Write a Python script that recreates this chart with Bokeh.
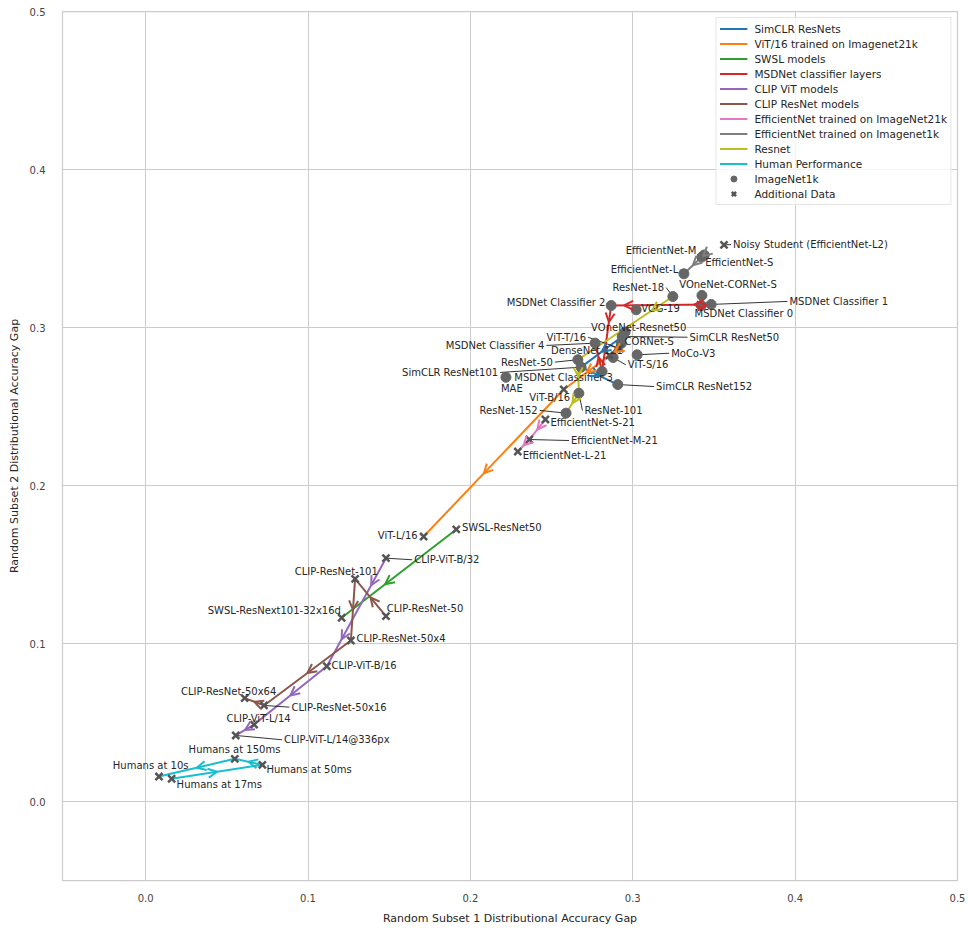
from bokeh.plotting import figure
from bokeh.models import (ColumnDataSource, Range1d, Arrow, OpenHead, Legend,
                          LegendItem, FixedTicker, PrintfTickFormatter)
from bokeh.embed import file_html
from bokeh.resources import INLINE
from bokeh.core.properties import value

# ---------------------------------------------------------------- data
# Models trained on ImageNet-1k only (drawn as circles)
IN1K_MODELS = ["EfficientNet-S", "EfficientNet-M", "EfficientNet-L", "ResNet-18",
               "VOneNet-CORNet-S", "MSDNet Classifier 0", "MSDNet Classifier 1",
               "MSDNet Classifier 2", "VGG-19", "VOneNet-Resnet50",
               "MSDNet Classifier 4", "CORNet-S", "DenseNet-121", "MoCo-V3",
               "ResNet-50", "SimCLR ResNet50", "SimCLR ResNet101",
               "MSDNet Classifier 3", "SimCLR ResNet152", "MAE", "ResNet-101",
               "ResNet-152"]
IN1K_GAP1 = [0.3440, 0.3425, 0.3315, 0.3247, 0.3426, 0.3422, 0.3483, 0.2867,
             0.3021, 0.2953, 0.2768, 0.2929, 0.2879, 0.3027, 0.2662, 0.2935,
             0.2682, 0.2811, 0.2908, 0.2219, 0.2668, 0.2589]
IN1K_GAP2 = [0.3459, 0.3446, 0.3340, 0.3196, 0.3203, 0.3139, 0.3146, 0.3139,
             0.3112, 0.2972, 0.2901, 0.2899, 0.2810, 0.2827, 0.2796, 0.2943,
             0.2749, 0.2722, 0.2639, 0.2685, 0.2584, 0.2458]

# Models / observers with additional data (drawn as crosses)
EXTRA_MODELS = ["Noisy Student (EfficientNet-L2)", "ViT-T/16", "ViT-S/16",
                "ViT-B/16", "ViT-L/16", "EfficientNet-S-21", "EfficientNet-M-21",
                "EfficientNet-L-21", "SWSL-ResNet50", "SWSL-ResNext101-32x16d",
                "CLIP-ViT-B/32", "CLIP-ResNet-101", "CLIP-ResNet-50",
                "CLIP-ResNet-50x4", "CLIP-ViT-B/16", "CLIP-ResNet-50x64",
                "CLIP-ResNet-50x16", "CLIP-ViT-L/14", "CLIP-ViT-L/14@336px",
                "Humans at 150ms", "Humans at 50ms", "Humans at 10s",
                "Humans at 17ms"]
EXTRA_GAP1 = [0.3562, 0.2922, 0.2856, 0.2575, 0.1712, 0.2462, 0.2363, 0.2292,
              0.1913, 0.1207, 0.1480, 0.1290, 0.1480, 0.1264, 0.1116, 0.0610,
              0.0729, 0.0668, 0.0555, 0.0549, 0.0719, 0.0082, 0.0160]
EXTRA_GAP2 = [0.3523, 0.2867, 0.2823, 0.2608, 0.1677, 0.2418, 0.2291, 0.2215,
              0.1722, 0.1163, 0.1540, 0.1409, 0.1173, 0.1019, 0.0856, 0.0654,
              0.0608, 0.0487, 0.0418, 0.0270, 0.0232, 0.0158, 0.0144]

# Model families, connected in order of increasing size / viewing time
SERIES_NAMES = ["SimCLR ResNets", "ViT/16 trained on Imagenet21k", "SWSL models",
                "MSDNet classifier layers", "CLIP ViT models", "CLIP ResNet models",
                "EfficientNet trained on ImageNet21k",
                "EfficientNet trained on Imagenet1k", "Resnet", "Human Performance"]
SERIES_MEMBERS = [
    ["SimCLR ResNet50", "SimCLR ResNet101", "SimCLR ResNet152"],
    ["ViT-T/16", "ViT-S/16", "ViT-B/16", "ViT-L/16"],
    ["SWSL-ResNet50", "SWSL-ResNext101-32x16d"],
    ["MSDNet Classifier 0", "MSDNet Classifier 1", "MSDNet Classifier 2",
     "MSDNet Classifier 3", "MSDNet Classifier 4"],
    ["CLIP-ViT-B/32", "CLIP-ViT-B/16", "CLIP-ViT-L/14", "CLIP-ViT-L/14@336px"],
    ["CLIP-ResNet-50", "CLIP-ResNet-101", "CLIP-ResNet-50x4", "CLIP-ResNet-50x16",
     "CLIP-ResNet-50x64"],
    ["EfficientNet-S-21", "EfficientNet-M-21", "EfficientNet-L-21"],
    ["EfficientNet-S", "EfficientNet-M", "EfficientNet-L"],
    ["ResNet-18", "ResNet-50", "ResNet-101", "ResNet-152"],
    ["Humans at 17ms", "Humans at 50ms", "Humans at 150ms", "Humans at 10s"],
]
SERIES_COLORS = ["#1f77b4", "#ff7f0e", "#2ca02c", "#d62728", "#9467bd",
                 "#8c564b", "#e377c2", "#7f7f7f", "#bcbd22", "#17becf"]

# ---------------------------------------------------------------- layout
# where along a segment the direction arrowheads sit (default: midpoint)
ARROW_AT = {
    ("CLIP-ViT-B/32", "CLIP-ViT-B/16"): [0.25, 0.75],
    ("SWSL-ResNet50", "SWSL-ResNext101-32x16d"): [0.62],
    ("MSDNet Classifier 1", "MSDNet Classifier 2"): [0.17, 0.87],
    ("MSDNet Classifier 2", "MSDNet Classifier 3"): [0.25],
    ("ResNet-18", "ResNet-50"): [0.22],
    ("ViT-B/16", "ViT-L/16"): [0.57],
}

# label placement: screen-pixel offset from the point, alignment, leader line
LABEL_LAYOUT = {
    "EfficientNet-S": (1, 7.5, "left", False),
    "EfficientNet-M": (-5.5, -6.5, "right", False),
    "EfficientNet-L": (-5.7, -4.3, "right", True),
    "ResNet-18": (-8.7, -9, "right", True),
    "VOneNet-CORNet-S": (-22.7, -10.7, "left", False),
    "MSDNet Classifier 0": (-6.7, 8.3, "left", False),
    "MSDNet Classifier 1": (78.3, -3, "left", True),
    "MSDNet Classifier 2": (-5.7, -3.3, "right", False),
    "VGG-19": (5, -1.3, "left", False),
    "VOneNet-Resnet50": (-34, -4.8, "left", False),
    "MSDNet Classifier 4": (-50.7, 2.3, "right", True),
    "CORNet-S": (3.3, -2, "left", False),
    "DenseNet-121": (-62, -7, "left", False),
    "MoCo-V3": (34, -1.6, "left", True),
    "ResNet-50": (-25, 2.4, "right", True),
    "SimCLR ResNet50": (67.3, 0.7, "left", True),
    "SimCLR ResNet101": (-83, 5.3, "right", True),
    "MSDNet Classifier 3": (-87.7, 6.3, "left", False),
    "SimCLR ResNet152": (38.3, 2, "left", True),
    "MAE": (-5, 11.6, "left", False),
    "ResNet-101": (5.6, 17.3, "left", True),
    "ResNet-152": (-28.3, -2.7, "right", True),
    "Noisy Student (EfficientNet-L2)": (9, -0.3, "left", True),
    "ViT-T/16": (-34, -11.3, "right", True),
    "ViT-S/16": (18.4, 9.3, "left", True),
    "ViT-B/16": (-34.4, 7.7, "left", False),
    "ViT-L/16": (-6, -1, "right", False),
    "EfficientNet-S-21": (5, 2.7, "left", False),
    "EfficientNet-M-21": (41.7, 1, "left", True),
    "EfficientNet-L-21": (5, 4, "left", False),
    "SWSL-ResNet50": (5.7, -1.7, "left", False),
    "SWSL-ResNext101-32x16d": (-0.7, -7.3, "right", False),
    "CLIP-ViT-B/32": (28.3, 1.6, "left", True),
    "CLIP-ResNet-101": (-18.8, -7.6, "center", False),
    "CLIP-ResNet-50": (0.7, -8, "left", False),
    "CLIP-ResNet-50x4": (5.7, -1.7, "left", False),
    "CLIP-ViT-B/16": (4.7, -0.7, "left", False),
    "CLIP-ResNet-50x64": (-16, -7, "center", False),
    "CLIP-ResNet-50x16": (27.4, 1.7, "left", True),
    "CLIP-ViT-L/14": (4.4, -6.3, "center", False),
    "CLIP-ViT-L/14@336px": (48.3, 4.3, "left", True),
    "Humans at 150ms": (-0.3, -9.3, "center", False),
    "Humans at 50ms": (4, 4.7, "left", False),
    "Humans at 10s": (-8.3, -11, "center", False),
    "Humans at 17ms": (5, 6, "left", False),
}

FONT = "DejaVu Sans"
TEXT_COLOR = "#262626"
X0, X1 = -0.0512, 0.5
Y0, Y1 = -0.05, 0.5
FRAME_W, FRAME_H = 895, 869
KX = FRAME_W / (X1 - X0)   # pixels per data unit
KY = FRAME_H / (Y1 - Y0)

pos = {}
for n, a, b in zip(IN1K_MODELS, IN1K_GAP1, IN1K_GAP2):
    pos[n] = (a, b)
for n, a, b in zip(EXTRA_MODELS, EXTRA_GAP1, EXTRA_GAP2):
    pos[n] = (a, b)

p = figure(frame_width=FRAME_W, frame_height=FRAME_H,
           x_range=Range1d(X0, X1), y_range=Range1d(Y0, Y1),
           output_backend="svg", toolbar_location=None,
           min_border_left=62, min_border_right=11, min_border_top=11,
           min_border_bottom=50, background_fill_color="white",
           border_fill_color="white")

# axes / grid in a light "whitegrid" look
p.outline_line_color = "#cccccc"
p.outline_line_width = 1.25
for ax in (p.xaxis, p.yaxis):
    ax.ticker = FixedTicker(ticks=[0.0, 0.1, 0.2, 0.3, 0.4, 0.5])
    ax.formatter = PrintfTickFormatter(format="%.1f")
    ax.axis_line_color = None
    ax.major_tick_line_color = None
    ax.minor_tick_line_color = None
    ax.major_tick_out = 0
    ax.major_tick_in = 0
    ax.minor_tick_out = 0
    ax.major_label_text_font = FONT
    ax.major_label_text_font_size = "10px"
    ax.major_label_text_color = "#444444"
    ax.axis_label_text_font = FONT
    ax.axis_label_text_font_size = "11px"
    ax.axis_label_text_font_style = "normal"
    ax.axis_label_text_color = TEXT_COLOR
p.xaxis.axis_label = "Random Subset 1 Distributional Accuracy Gap"
p.yaxis.axis_label = "Random Subset 2 Distributional Accuracy Gap"
p.xaxis.major_label_standoff = 13
p.yaxis.major_label_standoff = 17
p.xaxis.axis_label_standoff = 7
p.yaxis.axis_label_standoff = 6
p.grid.grid_line_color = "#cccccc"
p.grid.grid_line_width = 1

# family lines with direction arrowheads
line_renderers = []
for name, members, color in zip(SERIES_NAMES, SERIES_MEMBERS, SERIES_COLORS):
    xs = [pos[m][0] for m in members]
    ys = [pos[m][1] for m in members]
    r = p.line(xs, ys, line_color=color, line_width=2)
    line_renderers.append(r)
    sx, sy, ex, ey = [], [], [], []
    for a, b in zip(members[:-1], members[1:]):
        (xa, ya), (xb, yb) = pos[a], pos[b]
        for f in ARROW_AT.get((a, b), [0.5]):
            sx.append(xa)
            sy.append(ya)
            ex.append(xa + f * (xb - xa))
            ey.append(ya + f * (yb - ya))
    src = ColumnDataSource(dict(xs=sx, ys=sy, xe=ex, ye=ey))
    p.add_layout(Arrow(end=OpenHead(size=9, line_color=color, line_width=2),
                       x_start="xs", y_start="ys", x_end="xe", y_end="ye",
                       line_alpha=0, source=src))

# leader lines from points to their labels
lx0, ly0, lx1, ly1 = [], [], [], []
for name, (dx, dy, align, leader) in LABEL_LAYOUT.items():
    if not leader:
        continue
    x, y = pos[name]
    gap = 2 if align == "left" else (-2 if align == "right" else 0)
    lx0.append(x)
    ly0.append(y)
    lx1.append(x + (dx - gap) / KX)
    ly1.append(y - dy / KY)
p.segment(lx0, ly0, lx1, ly1, line_color="black", line_width=0.8)

# markers
r_in1k = p.scatter(IN1K_GAP1, IN1K_GAP2, marker="circle", size=10,
                   fill_color="#666666", line_color="#666666")
r_extra = p.scatter(EXTRA_GAP1, EXTRA_GAP2, marker="x", size=10,
                    line_color="#555555", line_width=2.5)

# model labels
for align in ("left", "right", "center"):
    names = [n for n, v in LABEL_LAYOUT.items() if v[2] == align]
    src = ColumnDataSource(dict(
        x=[pos[n][0] for n in names], y=[pos[n][1] for n in names],
        t=names, dx=[LABEL_LAYOUT[n][0] for n in names],
        dy=[LABEL_LAYOUT[n][1] for n in names]))
    p.text("x", "y", text="t", x_offset="dx", y_offset="dy", source=src,
           text_align=align, text_baseline="middle", text_font=value(FONT),
           text_font_size="10px", text_color=TEXT_COLOR)

items = [LegendItem(label=n, renderers=[r]) for n, r in zip(SERIES_NAMES, line_renderers)]
items.append(LegendItem(label="ImageNet1k", renderers=[r_in1k]))
items.append(LegendItem(label="Additional Data", renderers=[r_extra]))
legend = Legend(items=items, location="top_right", margin=6, padding=3,
                spacing=0, label_height=15, glyph_height=15, glyph_width=28,
                label_standoff=7, label_text_font=FONT,
                label_text_font_size="10.5px", label_text_color=TEXT_COLOR,
                border_line_color="#cccccc", border_line_width=1,
                background_fill_alpha=0.8)
p.add_layout(legend)

open("out.html", "w").write(file_html(p, INLINE))
